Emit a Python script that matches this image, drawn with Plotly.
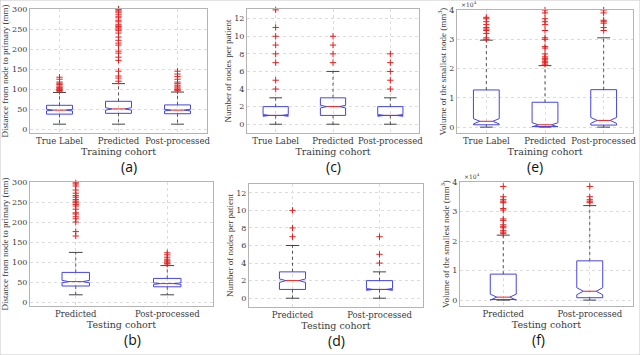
import plotly.graph_objects as go

train_cats = ['True Label', 'Predicted', 'Post-processed']
test_cats = ['Predicted', 'Post-processed']

# (a) distance from node to primary, training cohort
dist_tr_q1 = [38, 40, 39]
dist_tr_med = [48, 51, 48]
dist_tr_q3 = [60, 70, 61]
dist_tr_lo = [13, 13, 13]
dist_tr_hi = [92, 114, 93]
dist_tr_notch = [2, 3, 2]
dist_tr_out = [
    [95, 97, 99, 101, 103, 105, 108, 112, 115, 118, 125, 130],
    [120, 128, 133, 145, 172, 180, 190, 195, 210, 215, 222, 230, 240, 246, 250,
     253, 256, 258, 262, 268, 272, 278, 282, 287, 292, 295, 298, 300],
    [96, 98, 100, 103, 106, 110, 114, 118, 125, 132, 138, 145],
]

# (b) distance, testing cohort
dist_te_q1 = [40, 38]
dist_te_med = [51, 46]
dist_te_q3 = [74, 59]
dist_te_lo = [18, 18]
dist_te_hi = [124, 91]
dist_te_notch = [3, 2]
dist_te_out = [
    [165, 176, 200, 208, 213, 220, 223, 232, 240, 244, 248, 252, 256, 262, 266,
     272, 280, 290, 295, 298],
    [95, 97, 100, 103, 107, 112, 118, 123],
]

# (c) number of nodes per patient, training cohort
nodes_tr_q1 = [1, 1, 1]
nodes_tr_med = [1, 2, 1]
nodes_tr_q3 = [2, 3, 2]
nodes_tr_lo = [0, 0, 0]
nodes_tr_hi = [3, 6, 3]
nodes_tr_notch = [0.1, 0.15, 0.1]
nodes_tr_out = [
    [4, 5, 7, 8, 9, 10, 11, 13],
    [7, 8, 9, 10],
    [4, 5, 6, 7, 8],
]

# (d) number of nodes per patient, testing cohort
nodes_te_q1 = [1, 1]
nodes_te_med = [2, 1]
nodes_te_q3 = [3, 2]
nodes_te_lo = [0, 0]
nodes_te_hi = [6, 3]
nodes_te_notch = [0.2, 0.1]
nodes_te_out = [
    [7, 8, 10],
    [4, 5, 7],
]

# (e) volume of the smallest node (x10^4 mm^3), training cohort
vol_tr_q1 = [0.08, 0.02, 0.07]
vol_tr_med = [0.2, 0.08, 0.23]
vol_tr_q3 = [1.27, 0.85, 1.28]
vol_tr_lo = [0, 0, 0]
vol_tr_hi = [2.97, 2.1, 3.05]
vol_tr_notch = [0.09, 0.07, 0.1]
vol_tr_out = [
    [3.0, 3.05, 3.2, 3.3, 3.35, 3.4, 3.5, 3.6, 3.7, 3.75],
    [2.15, 2.2, 2.25, 2.3, 2.35, 2.4, 2.5, 2.7, 2.75, 3.0, 3.05, 3.3, 3.5, 3.6, 3.7, 3.9, 4.0],
    [3.3, 3.4, 3.55, 3.6, 3.65, 3.9, 4.0],
]

# (f) volume, testing cohort
vol_te_q1 = [0.02, 0.08]
vol_te_med = [0.1, 0.3]
vol_te_q3 = [0.88, 1.33]
vol_te_lo = [0, 0]
vol_te_hi = [2.2, 3.2]
vol_te_notch = [0.1, 0.12]
vol_te_out = [
    [2.25, 2.3, 2.35, 2.45, 2.5, 2.55, 2.7, 2.75, 3.05, 3.1, 3.3, 3.35, 3.4, 3.5, 3.85],
    [3.3, 3.35, 3.4, 3.5, 3.85],
]

W, H = 640, 355
SERIF = 'DejaVu Serif'
TITLE_SERIF = 'Liberation Serif'
BLUE = '#4646dc'
RED = '#e02020'
TXT = '#3a3a3a'

fig = go.Figure()


def add_panel(n, cats, q1, med, q3, lo, hi, notch, outs, half, yrange, ytitle,
              xtitle, dx, dy, ticks, label):
    xa = 'x' if n == 1 else 'x%d' % n
    ya = 'y' if n == 1 else 'y%d' % n
    bx, by, mx, my, wx, wy, cx, cy, ox, oy = [], [], [], [], [], [], [], [], [], []
    for i in range(len(cats)):
        x = i + 1
        nlo, nhi = med[i] - notch[i], med[i] + notch[i]
        bx += [x - half, x - half, x - half * 0.5, x - half, x - half,
               x + half, x + half, x + half * 0.5, x + half, x + half, x - half, None]
        by += [q1[i], nlo, med[i], nhi, q3[i], q3[i], nhi, med[i], nlo, q1[i], q1[i], None]
        mx += [x - half * 0.5, x + half * 0.5, None]
        my += [med[i], med[i], None]
        wx += [x, x, None, x, x, None]
        wy += [q3[i], hi[i], None, q1[i], lo[i], None]
        cw = half * 0.5
        cx += [x - cw, x + cw, None, x - cw, x + cw, None]
        cy += [hi[i], hi[i], None, lo[i], lo[i], None]
        ox += [x] * len(outs[i])
        oy += outs[i]
    common = dict(xaxis=xa, yaxis=ya, showlegend=False, hoverinfo='skip')
    fig.add_trace(go.Scatter(x=wx, y=wy, mode='lines',
                             line=dict(color='#555', width=1, dash='dot'), **common))
    fig.add_trace(go.Scatter(x=cx, y=cy, mode='lines',
                             line=dict(color='#444', width=1), **common))
    fig.add_trace(go.Scatter(x=bx, y=by, mode='lines',
                             line=dict(color=BLUE, width=1), **common))
    fig.add_trace(go.Scatter(x=mx, y=my, mode='lines',
                             line=dict(color=RED, width=1), **common))
    fig.add_trace(go.Scatter(x=ox, y=oy, mode='markers',
                             marker=dict(symbol='cross-thin-open', size=4.5, color=RED,
                                         line=dict(color=RED, width=1)),
                             cliponaxis=False, **common))

    xkey = 'xaxis' if n == 1 else 'xaxis%d' % n
    ykey = 'yaxis' if n == 1 else 'yaxis%d' % n
    fig.layout[xkey] = dict(
        domain=[dx[0] / W, dx[1] / W], anchor=ya, range=[0.5, len(cats) + 0.5],
        tickvals=list(range(1, len(cats) + 1)), ticktext=cats, automargin=False,
        showgrid=True, gridcolor='#dcdcdc', griddash='dot', zeroline=False,
        showline=True, mirror=True, linecolor='#b4b4b4', ticks='',
        tickfont=dict(family=SERIF, size=8.5, color=TXT),
        title=dict(text=xtitle, font=dict(family=SERIF, size=9.5, color=TXT), standoff=1),
    )
    fig.layout[ykey] = dict(
        domain=[1 - dy[1] / H, 1 - dy[0] / H], anchor=xa, range=yrange, automargin=False,
        tickvals=ticks, showgrid=True, gridcolor='#dcdcdc', griddash='dot',
        zeroline=False, showline=True, mirror=True, linecolor='#b4b4b4', ticks='',
        tickfont=dict(family=SERIF, size=8, color=TXT),
        title=dict(text=ytitle, font=dict(family=TITLE_SERIF, size=9, color=TXT), standoff=1),
    )
    fig.add_annotation(text=label, xref='paper', yref='paper',
                       x=(dx[0] + dx[1]) / 2 / W, y=1 - (dy[1] + 33) / H,
                       showarrow=False, yanchor='middle',
                       font=dict(family='Open Sans', size=14, color='#111'))


dist_title = 'Distance from node to primary (mm)'
nodes_title = 'Number of nodes per patient'
vol_title = 'Volume of the smallest node (mm<sup>3</sup>)'

add_panel(1, train_cats, dist_tr_q1, dist_tr_med, dist_tr_q3, dist_tr_lo, dist_tr_hi,
          dist_tr_notch, dist_tr_out, 0.22, [-9, 300], dist_title, 'Training cohort',
          (30, 207), (9, 133), [0, 50, 100, 150, 200, 250, 300], '(a)')
add_panel(2, train_cats, nodes_tr_q1, nodes_tr_med, nodes_tr_q3, nodes_tr_lo, nodes_tr_hi,
          nodes_tr_notch, nodes_tr_out, 0.22, [-1, 13.1], nodes_title, 'Training cohort',
          (247, 419), (9, 133), [0, 2, 4, 6, 8, 10, 12], '(c)')
add_panel(3, train_cats, vol_tr_q1, vol_tr_med, vol_tr_q3, vol_tr_lo, vol_tr_hi,
          vol_tr_notch, vol_tr_out, 0.22, [-0.2, 4], vol_title, 'Training cohort',
          (457, 633), (10, 133), [0, 1, 2, 3, 4], '(e)')
add_panel(4, test_cats, dist_te_q1, dist_te_med, dist_te_q3, dist_te_lo, dist_te_hi,
          dist_te_notch, dist_te_out, 0.15, [-10, 300], dist_title, 'Testing cohort',
          (30, 213), (182, 306), [0, 50, 100, 150, 200, 250, 300], '(b)')
add_panel(5, test_cats, nodes_te_q1, nodes_te_med, nodes_te_q3, nodes_te_lo, nodes_te_hi,
          nodes_te_notch, nodes_te_out, 0.15, [-1, 13], nodes_title, 'Testing cohort',
          (249, 423), (184, 307), [0, 2, 4, 6, 8, 10, 12], '(d)')
add_panel(6, test_cats, vol_te_q1, vol_te_med, vol_te_q3, vol_te_lo, vol_te_hi,
          vol_te_notch, vol_te_out, 0.15, [-0.2, 4], vol_title, 'Testing cohort',
          (460, 633), (182, 306), [0, 1, 2, 3, 4], '(f)')

# exponent labels on the volume axes
for xpx, ypx in [(459, 10), (462, 182)]:
    fig.add_annotation(text='\u00d710<sup>4</sup>', xref='paper', yref='paper',
                       x=xpx / W, y=1 - ypx / H, xanchor='left', yanchor='bottom',
                       showarrow=False, font=dict(family=SERIF, size=6, color=TXT))

fig.add_shape(type='rect', xref='paper', yref='paper', x0=0, y0=0, x1=1, y1=1,
              line=dict(color='#c8c8c8', width=1))

fig.update_layout(
    width=W, height=H,
    margin=dict(l=0, r=0, t=0, b=0),
    paper_bgcolor='white', plot_bgcolor='white',
)

# the page body has a default 8px margin, drop it so the figure fills the window
fig.write_html("out.html", config={'displayModeBar': False},
               post_script="document.body.style.margin='0';document.body.style.overflow='hidden';")
